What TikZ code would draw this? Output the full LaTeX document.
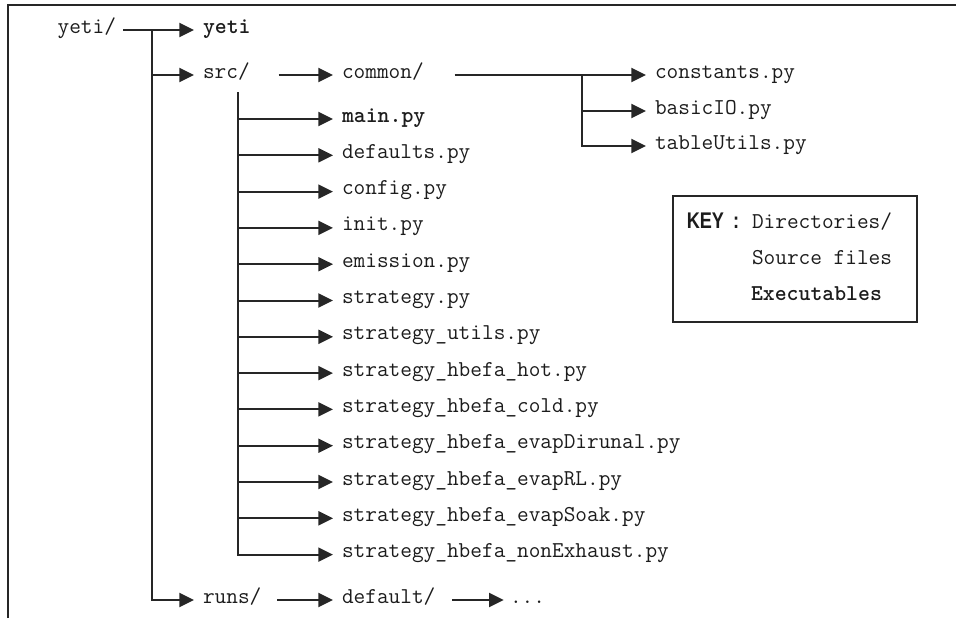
\documentclass[tikz,border=0pt]{standalone}
\usepackage{fontspec}
\setmainfont{Liberation Serif}
\setsansfont{Liberation Sans}
\usetikzlibrary{arrows.meta}

\definecolor{inkline}{HTML}{262626}
\definecolor{inktext}{HTML}{1c1c1c}
\newcommand{\pathfont}{\ttfamily\fontsize{17}{20}\selectfont}
\newcommand{\execfont}{\ttfamily\bfseries\fontsize{17}{20}\selectfont}
\newcommand{\keyfont}{\sffamily\bfseries\fontsize{17}{20}\selectfont}

\tikzset{every picture/.style={line width=1.5pt}}
\tikzset{
  pathnode/.style={font=\pathfont, text=inktext, inner sep=0pt, anchor=mid west},
  execnode/.style={pathnode, font=\execfont},
  branch/.style={draw=inkline, line width=1.5pt, -{Triangle[length=11pt,width=10.5pt]}, shorten >=6pt},
  frameline/.style={draw=inkline, line width=2pt},
}

\begin{document}
\begin{tikzpicture}[x=0.75pt,y=0.75pt,yscale=-1,xscale=1]
\useasboundingbox (0,0) rectangle (956,618);

%Shape: Frame
\draw [frameline] (8,618) -- (8,5) -- (956,5) ;

% Text Node
\draw (117,30) node [pathnode, anchor=mid east] (yetidir) {yeti/};
% Text Node
\draw (202,30) node [execnode] (yetiexe) {yeti};
% Text Node
\draw (202,75) node [pathnode] (src) {src/};
% Text Node
\draw (341,75) node [pathnode] (common) {common/};
% Text Node
\draw (654,75) node [pathnode] (constants) {constants.py};
% Text Node
\draw (654,111) node [pathnode] (basicio) {basicIO.py};
% Text Node
\draw (654,146) node [pathnode] (tableutils) {tableUtils.py};
% Text Node
\draw (341,119) node [execnode] (mainpy) {main.py};
% Text Node
\draw (341,155.3) node [pathnode] (defaults) {defaults.py};
% Text Node
\draw (341,191.6) node [pathnode] (config) {config.py};
% Text Node
\draw (341,227.9) node [pathnode] (init) {init.py};
% Text Node
\draw (341,264.2) node [pathnode] (emission) {emission.py};
% Text Node
\draw (341,300.5) node [pathnode] (strategy) {strategy.py};
% Text Node
\draw (341,336.8) node [pathnode] (stutils) {strategy\_utils.py};
% Text Node
\draw (341,373.1) node [pathnode] (sthot) {strategy\_hbefa\_hot.py};
% Text Node
\draw (341,409.4) node [pathnode] (stcold) {strategy\_hbefa\_cold.py};
% Text Node
\draw (341,445.7) node [pathnode] (stdiurnal) {strategy\_hbefa\_evapDirunal.py};
% Text Node
\draw (341,482) node [pathnode] (strl) {strategy\_hbefa\_evapRL.py};
% Text Node
\draw (341,518.3) node [pathnode] (stsoak) {strategy\_hbefa\_evapSoak.py};
% Text Node
\draw (341,554.6) node [pathnode] (stnonex) {strategy\_hbefa\_nonExhaust.py};
% Text Node
\draw (202,600) node [pathnode] (runs) {runs/};
% Text Node
\draw (341,600) node [pathnode] (default) {default/};
% Text Node
\draw (509,600) node [pathnode] (more) {...};

%Straight Lines
\coordinate (trunk) at (152,30);
\coordinate (srcstem) at (238,92);
\coordinate (commonstem) at (582,75);
\draw [branch, shorten <=4.5pt] (yetidir.mid east) -- (yetiexe.mid west) ;
\draw [branch] (trunk) |- (runs.mid west) ;
\draw [branch] (trunk |- src.mid west) -- (src.mid west) ;
\draw [branch, shorten <=21pt] (src.mid east) -- (common.mid west) ;
%Straight Lines
\draw [branch, shorten <=22.5pt] (common.mid east) -- (constants.mid west) ;
\draw [branch] (commonstem) |- (tableutils.mid west) ;
\draw [branch] (commonstem |- basicio.mid west) -- (basicio.mid west) ;
%Straight Lines
\draw [branch] (srcstem) |- (stnonex.mid west) ;
\draw [branch] (srcstem |- mainpy.mid west) -- (mainpy.mid west) ;
\draw [branch] (srcstem |- defaults.mid west) -- (defaults.mid west) ;
\draw [branch] (srcstem |- config.mid west) -- (config.mid west) ;
\draw [branch] (srcstem |- init.mid west) -- (init.mid west) ;
\draw [branch] (srcstem |- emission.mid west) -- (emission.mid west) ;
\draw [branch] (srcstem |- strategy.mid west) -- (strategy.mid west) ;
\draw [branch] (srcstem |- stutils.mid west) -- (stutils.mid west) ;
\draw [branch] (srcstem |- sthot.mid west) -- (sthot.mid west) ;
\draw [branch] (srcstem |- stcold.mid west) -- (stcold.mid west) ;
\draw [branch] (srcstem |- stdiurnal.mid west) -- (stdiurnal.mid west) ;
\draw [branch] (srcstem |- strl.mid west) -- (strl.mid west) ;
\draw [branch] (srcstem |- stsoak.mid west) -- (stsoak.mid west) ;
%Straight Lines
\draw [branch, shorten <=11.25pt] (runs.mid east) -- (default.mid west) ;
\draw [branch, shorten <=12pt, shorten >=4pt] (default.mid east) -- (more.mid west) ;

%Shape: Key box
\draw (795,259) node [frameline, draw, minimum width=183pt, minimum height=94.5pt, inner sep=0pt] (key) {};
% Text Node
\draw (686,225) node [anchor=mid west, inner sep=0pt, font=\keyfont, text=inktext, xscale=0.8] (keylabel) {KEY\enspace:};
% Text Node
\draw (751,225) node [pathnode] (keydirs) {Directories/};
% Text Node
\draw (751,261) node [pathnode] (keysrc) {Source files};
% Text Node
\draw (750,297) node [execnode] (keyexe) {Executables};

\end{tikzpicture}
\end{document}
